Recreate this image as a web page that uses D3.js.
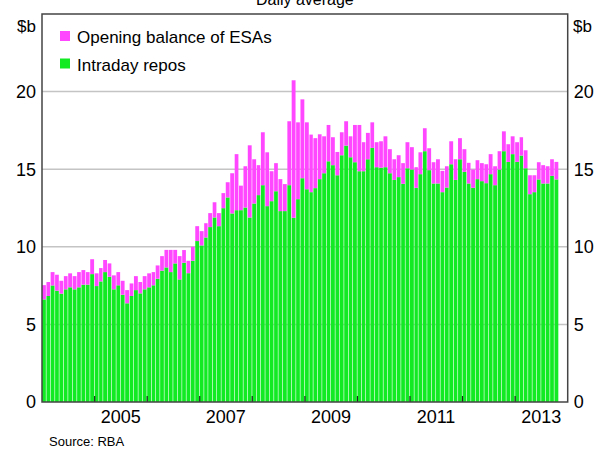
<!DOCTYPE html>
<html>
<head>
<meta charset="utf-8">
<script src="https://cdn.jsdelivr.net/npm/d3@7/dist/d3.min.js"></script>
<style>
  body { margin: 0; background: #fff; }
  text { font-family: Arial, "Liberation Sans", sans-serif; fill: #000; }
</style>
</head>
<body>
<script>
// monthly, Jan 2004 - Oct 2013, $b
var repos = [6.61, 6.83, 7.51, 7.17, 6.98, 7.26, 7.39, 7.26, 7.39, 7.56, 7.56, 8.24,
  7.47, 7.77, 8.37, 8.07, 7.26, 7.52, 6.91, 6.36, 6.83, 7.21, 7.00, 7.26,
  7.39, 7.52, 7.94, 8.46, 8.67, 8.37, 8.93, 7.90, 8.97, 8.30, 9.10, 10.37,
  10.09, 10.60, 11.27, 11.89, 11.33, 12.49, 13.18, 12.15, 12.36, 12.36, 12.53, 11.89,
  12.79, 13.33, 13.97, 12.62, 12.94, 13.58, 12.30, 12.30, 13.97, 11.87, 13.07, 14.42,
  13.71, 13.52, 13.78, 14.36, 14.74, 15.51, 15.26, 14.61, 15.90, 16.52, 15.77, 15.45,
  14.87, 14.87, 15.64, 16.37, 15.13, 15.09, 15.13, 14.74, 14.31, 14.49, 14.06, 15.06,
  14.98, 13.80, 14.68, 16.16, 14.94, 14.08, 14.08, 13.52, 13.82, 15.32, 14.31, 15.64,
  14.83, 14.08, 13.80, 14.36, 14.23, 14.10, 14.68, 13.97, 14.98, 16.16, 15.47, 15.97,
  15.47, 15.88, 15.06, 13.39, 13.52, 14.34, 14.08, 14.08, 14.57, 14.34];
var esa = [0.92, 0.90, 0.86, 1.03, 0.83, 0.85, 0.90, 0.85, 0.98, 0.94, 0.81, 0.96,
  0.82, 0.86, 0.78, 0.86, 0.90, 0.85, 0.90, 0.85, 0.81, 0.90, 0.73, 0.85,
  0.90, 0.85, 0.86, 0.94, 1.13, 1.43, 0.87, 1.50, 0.82, 0.80, 0.90, 0.96,
  0.92, 0.92, 0.90, 0.98, 0.84, 0.97, 0.98, 2.59, 3.61, 1.58, 2.66, 4.65,
  2.85, 1.93, 3.41, 3.47, 1.93, 1.81, 2.06, 1.74, 4.12, 8.86, 4.95, 5.08,
  4.31, 3.71, 3.22, 2.89, 2.38, 2.34, 1.80, 1.50, 1.48, 1.57, 1.35, 2.40,
  2.98, 1.87, 1.70, 1.65, 1.61, 1.71, 1.99, 1.55, 1.33, 1.41, 1.33, 1.68,
  1.44, 1.33, 1.41, 1.48, 1.41, 1.37, 1.56, 1.37, 1.37, 1.48, 1.33, 1.36,
  1.46, 1.33, 1.18, 1.22, 1.16, 1.22, 1.29, 1.22, 1.18, 1.28, 1.14, 1.15,
  1.27, 1.18, 1.16, 1.22, 1.09, 1.11, 1.18, 1.11, 1.07, 1.13];
var months = d3.timeMonth.range(new Date(2004, 0, 1), new Date(2013, 10, 1));
var yTicks = [0, 5, 10, 15, 20];
var yearLabels = [2005, 2007, 2009, 2011, 2013];
var yearTicks = [2005, 2006, 2007, 2008, 2009, 2010, 2011, 2012, 2013];
var seriesNames = ['Opening balance of ESAs', 'Intraday repos'];
var colors = ['#ff47ff', '#12ea24'];

var width = 594, height = 453;
var pl = 42, pr = 567.7, pt = 14, pb = 402;

var svg = d3.select('body').append('svg')
  .attr('width', width)
  .attr('height', height);

var x = d3.scaleTime()
  .domain([new Date(2004, 0, 1), new Date(2014, 0, 1)])
  .range([pl, pr]);
var y = d3.scaleLinear().domain([0, 25]).range([pb, pt]);

// gridlines
svg.selectAll('.grid')
  .data(yTicks.filter(d => d > 0))
  .enter().append('line')
  .attr('x1', pl).attr('x2', pr)
  .attr('y1', d => y(d)).attr('y2', d => y(d))
  .attr('stroke', '#c4c4c4')
  .attr('stroke-width', 1.5);

var rows = months.map((m, i) => ({ date: m, repos: repos[i], esa: esa[i] }));
var stack = d3.stack().keys(['repos', 'esa'])(rows);

var bw = d => x(d3.timeMonth.offset(d.data.date, 1)) - x(d.data.date) - 0.6;

svg.append('g').selectAll('g')
  .data(stack)
  .enter().append('g')
  .attr('fill', (d, i) => i == 0 ? colors[1] : colors[0])
  .selectAll('rect')
  .data(d => d)
  .enter().append('rect')
  .attr('x', d => x(d.data.date))
  .attr('width', bw)
  .attr('y', d => y(d[1]))
  .attr('height', d => y(d[0]) - y(d[1]));

// year ticks along the bottom
svg.selectAll('.yt')
  .data(yearTicks)
  .enter().append('line')
  .attr('x1', d => x(new Date(d, 0, 1))).attr('x2', d => x(new Date(d, 0, 1)))
  .attr('y1', pb).attr('y2', pb - 6)
  .attr('stroke', '#222')
  .attr('stroke-width', 1.2);

// frame
svg.append('rect')
  .attr('x', pl).attr('y', pt)
  .attr('width', pr - pl).attr('height', pb - pt)
  .attr('fill', 'none')
  .attr('stroke', '#444')
  .attr('stroke-width', 1.5);

// y labels both sides
svg.selectAll('.yl')
  .data(yTicks)
  .enter().append('text')
  .attr('x', pl - 6).attr('y', d => y(d))
  .attr('dy', '0.35em')
  .attr('text-anchor', 'end')
  .style('font-size', '18px')
  .text(d => d);
svg.selectAll('.yr')
  .data(yTicks)
  .enter().append('text')
  .attr('x', pr + 6).attr('y', d => y(d))
  .attr('dy', '0.35em')
  .style('font-size', '18px')
  .text(d => d);

svg.append('text').attr('x', 36).attr('y', 32).attr('text-anchor', 'end')
  .style('font-size', '17px').text('$b');
svg.append('text').attr('x', 573).attr('y', 32)
  .style('font-size', '17px').text('$b');

// x labels, mid year
svg.selectAll('.xl')
  .data(yearLabels)
  .enter().append('text')
  .attr('x', d => x(new Date(d, 6, 1)))
  .attr('y', 423)
  .attr('text-anchor', 'middle')
  .style('font-size', '18px')
  .text(d => d);

svg.append('text')
  .attr('x', (pl + pr) / 2).attr('y', 5)
  .attr('text-anchor', 'middle')
  .style('font-size', '16px')
  .text('Daily average');

// legend
var leg = svg.append('g');
seriesNames.forEach((n, i) => {
  leg.append('rect')
    .attr('x', 60).attr('y', 31 + i * 27.5)
    .attr('width', 10).attr('height', 10)
    .attr('fill', colors[i]);
  leg.append('text')
    .attr('x', 77).attr('y', 43 + i * 27.5)
    .style('font-size', '17px')
    .text(n);
});

svg.append('text')
  .attr('x', 49).attr('y', 446)
  .style('font-size', '13px')
  .text('Source: RBA');
</script>
</body>
</html>
